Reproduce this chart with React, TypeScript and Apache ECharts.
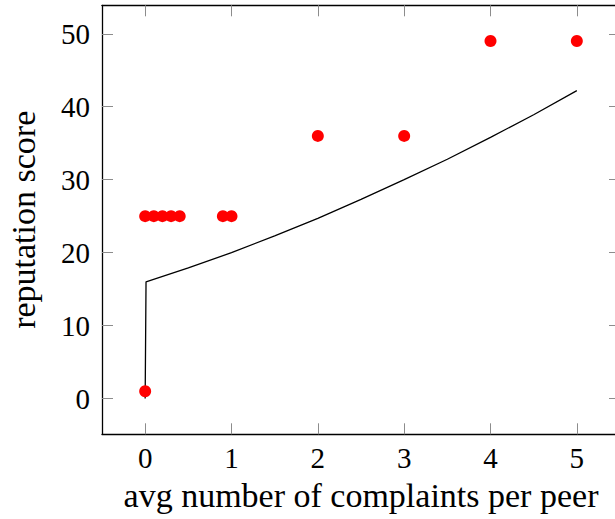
import React, { useEffect, useRef } from "react";
import * as echarts from "echarts";

const pointX = [0, 0, 0.1, 0.2, 0.3, 0.4, 0.9, 1, 2, 3, 4, 5];
const pointY = [1, 25, 25, 25, 25, 25, 25, 25, 36, 36, 49, 49];

const lineX = [0, 0.01, 0.5, 1, 1.5, 2, 2.5, 3, 3.5, 4, 4.5, 5];
const lineY = [0, 16, 17.9, 20.0, 22.3, 24.7, 27.3, 30.0, 32.8, 35.8, 38.9, 42.2];

const xTicks = [0, 1, 2, 3, 4, 5];
const yTicks = [0, 10, 20, 30, 40, 50];

const X_MIN = -0.5;
const X_MAX = 5.5;
const Y_MIN = -4.9;
const Y_MAX = 53.9;

const FONT = "'Liberation Serif', 'Times New Roman', serif";

export default function App() {
  const ref = useRef<HTMLDivElement>(null);
  useEffect(() => {
    if (!ref.current) return;
    const chart = echarts.init(ref.current, undefined, { renderer: "svg" });
    const tickStyle = { show: true, inside: true, length: 11, lineStyle: { color: "#8c8c8c", width: 1 } };
    const lineStyleAxis = { show: true, onZero: false, lineStyle: { color: "#000", width: 1.3 } };
    chart.setOption({
      animation: false,
      backgroundColor: "#fff",
      grid: {
        left: 102,
        right: 1,
        top: 5.3,
        bottom: 84.7,
        containLabel: false,
        outerBoundsMode: "none",
      },
      xAxis: [
        {
          type: "value",
          min: X_MIN,
          max: X_MAX,
          position: "bottom",
          axisLine: lineStyleAxis,
          axisTick: { ...tickStyle, customValues: xTicks },
          axisLabel: {
            customValues: xTicks,
            fontFamily: FONT,
            fontSize: 29,
            color: "#000",
            margin: 9,
          },
          splitLine: { show: false },
          name: "avg number of complaints per peer",
          nameLocation: "middle",
          nameGap: 44,
          nameTextStyle: { fontFamily: FONT, fontSize: 34, color: "#000" },
        },
        {
          type: "value",
          min: X_MIN,
          max: X_MAX,
          position: "top",
          axisLine: lineStyleAxis,
          axisTick: { ...tickStyle, customValues: xTicks },
          axisLabel: { show: false },
          splitLine: { show: false },
        },
      ],
      yAxis: [
        {
          type: "value",
          min: Y_MIN,
          max: Y_MAX,
          position: "left",
          axisLine: lineStyleAxis,
          axisTick: { ...tickStyle, customValues: yTicks },
          axisLabel: {
            customValues: yTicks,
            fontFamily: FONT,
            fontSize: 29,
            color: "#000",
            margin: 12,
          },
          splitLine: { show: false },
          name: "reputation score",
          nameLocation: "middle",
          nameGap: 62,
          nameTextStyle: { fontFamily: FONT, fontSize: 34, color: "#000" },
        },
        {
          type: "value",
          min: Y_MIN,
          max: Y_MAX,
          position: "right",
          axisLine: { show: false, onZero: false },
          axisTick: { ...tickStyle, customValues: yTicks },
          axisLabel: { show: false },
          splitLine: { show: false },
        },
      ],
      series: [
        {
          type: "line",
          data: lineX.map((x, i) => [x, lineY[i]]),
          showSymbol: false,
          symbol: "none",
          lineStyle: { color: "#000", width: 1.3 },
          z: 2,
        },
        {
          type: "scatter",
          data: pointX.map((x, i) => [x, pointY[i]]),
          symbol: "circle",
          symbolSize: 12,
          itemStyle: { color: "#ff0000", opacity: 1 },
          z: 3,
        },
      ],
    });
    return () => chart.dispose();
  }, []);
  return (
    <div
      style={{ position: "fixed", left: 0, top: 0, width: 615, height: 519, overflow: "hidden", background: "#fff" }}
    >
      <div ref={ref} style={{ width: 621, height: 519 }} />
    </div>
  );
}
